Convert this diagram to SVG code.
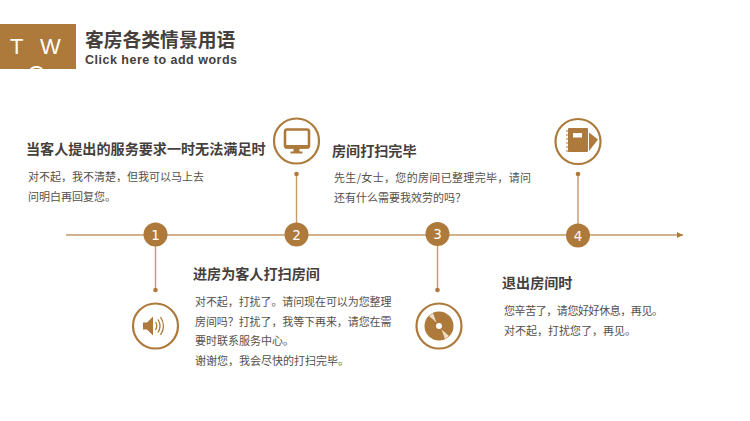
<svg xmlns="http://www.w3.org/2000/svg" width="750" height="421" viewBox="0 0 750 421">
<defs>
<style>
.h{font-family:"Noto Sans CJK SC","Liberation Sans",sans-serif;font-size:14.1px;font-weight:700;fill:#45403c}
.b{font-family:"Noto Sans CJK SC","Liberation Sans",sans-serif;font-size:11px;fill:#55504b}
.n{font-family:"DejaVu Sans",sans-serif;font-size:13.500px;fill:#fff;text-anchor:middle}
.c{fill:#ad7a3c}
.r{fill:#fff;stroke:#ad7a3c;stroke-width:2.200}
.l{stroke:#c49a66;stroke-width:1.400;fill:none}
</style>
<marker id="a" markerWidth="7" markerHeight="6" refX="6" refY="3" orient="auto" markerUnits="userSpaceOnUse"><path d="M0 0L6 3L0 6z" fill="#ad7a3c"/></marker>
</defs>
<rect width="750" height="421" fill="#fff"/>
<g id="header">
<rect x="0" y="24" width="76" height="45" fill="#ad7a3c"/>
<svg x="0" y="24" width="76" height="45" viewBox="0 0 76 45"><text x="10" y="30" font-family="Liberation Sans,sans-serif" font-size="22" fill="#fff">T</text><text x="40" y="30" font-family="Liberation Sans,sans-serif" font-size="22" fill="#fff">W</text><text x="28" y="57" font-family="Liberation Sans,sans-serif" font-size="22" fill="#fff">O</text></svg>
<text x="85" y="47" font-family="Noto Sans CJK SC,sans-serif" font-size="18.800" font-weight="700" fill="#45403c">客房各类情景用语</text>
<text x="85" y="64" font-family="Liberation Sans,sans-serif" font-size="12.500" font-weight="700" fill="#45403c" textLength="152">Click here to add words</text>
</g>
<g id="connectors">
<line class="l" x1="66" y1="235" x2="683" y2="235" marker-end="url(#a)"/>
<line class="l" x1="155.500" y1="235" x2="155.500" y2="290"/><circle class="c" cx="155.500" cy="290" r="2.300"/>
<line class="l" x1="296.500" y1="235" x2="296.500" y2="174"/><circle class="c" cx="296.500" cy="174" r="2.300"/>
<line class="l" x1="437.500" y1="235" x2="437.500" y2="290"/><circle class="c" cx="437.500" cy="290" r="2.300"/>
<line class="l" x1="578" y1="235" x2="578" y2="174"/><circle class="c" cx="578" cy="174" r="2.300"/>
</g>
<g id="step1"><circle class="c" cx="155.500" cy="234.500" r="12"/><text class="n" x="155.500" y="239.500">1</text></g>
<g id="step2"><circle class="c" cx="296.500" cy="234.500" r="12"/><text class="n" x="296.500" y="239.500">2</text></g>
<g id="step3"><circle class="c" cx="437.500" cy="234" r="12"/><text class="n" x="437.500" y="239">3</text></g>
<g id="step4"><circle class="c" cx="578" cy="235.500" r="12"/><text class="n" x="578" y="240.500">4</text></g>
<g id="icon-speaker"><circle class="r" cx="155.500" cy="326" r="22.500"/>
<path class="c" d="M143 322.500h4l6-6v19l-6-6h-4z"/>
<path d="M155.500 322q2.500 4 0 8M158 319.500q4 6.500 0 13M160.500 317q6 9 0 18" fill="none" stroke="#ad7a3c" stroke-width="1.300"/></g>
<g id="icon-monitor"><circle class="r" cx="296.500" cy="141" r="22.500"/>
<rect x="285" y="129.500" width="24" height="18" rx="2" fill="none" stroke="#ad7a3c" stroke-width="2.600"/>
<rect x="285" y="145" width="24" height="3.500" class="c"/><rect x="293.500" y="148" width="6" height="4" class="c"/><rect x="290.500" y="151.500" width="12" height="2" class="c"/></g>
<g id="icon-disc"><circle class="r" cx="439" cy="326" r="22.500"/>
<circle class="c" cx="439" cy="326" r="14.500"/>
<path d="M436.500 322.500L429 316L433 313zM441.500 329.500L449 336L445 339z" fill="#ecdcc8"/>
<circle cx="439" cy="326" r="3" fill="#fff"/></g>
<g id="icon-notebook"><circle class="r" cx="578" cy="141.500" r="22.500"/>
<rect x="568" y="128" width="20" height="24" rx="1" class="c"/>
<rect x="573" y="133" width="9" height="4.500" fill="#fff"/>
<path d="M566 131h4M566 135h4M566 139h4M566 143h4M566 147h4M566 151h4" stroke="#ad7a3c" stroke-width="1.200"/>
<path class="c" d="M589 132.500l9 7-9 11.500z"/></g>
<g id="text1"><text class="h" x="26" y="154">当客人提出的服务要求一时无法满足时</text>
<text class="b" x="28" y="181">对不起，我不清楚，但我可以马上去</text><text class="b" x="28" y="201">问明白再回复您。</text></g>
<g id="text2"><text class="h" x="332" y="156">房间打扫完毕</text>
<text class="b" x="334" y="182" textLength="197">先生/女士，您的房间已整理完毕，请问</text><text class="b" x="334" y="202">还有什么需要我效劳的吗？</text></g>
<g id="text3"><text class="h" x="193" y="279">进房为客人打扫房间</text>
<text class="b" x="195" y="306" textLength="196.500">对不起，打扰了。请问现在可以为您整理</text><text class="b" x="195" y="326" textLength="196.500">房间吗？打扰了，我等下再来，请您在需</text><text class="b" x="195" y="345">要时联系服务中心。</text><text class="b" x="195" y="365">谢谢您，我会尽快的打扫完毕。</text></g>
<g id="text4"><text class="h" x="502" y="288">退出房间时</text>
<text class="b" x="504" y="315" textLength="159">您辛苦了，请您好好休息，再见。</text><text class="b" x="504" y="335">对不起，打扰您了，再见。</text></g>
</svg>
